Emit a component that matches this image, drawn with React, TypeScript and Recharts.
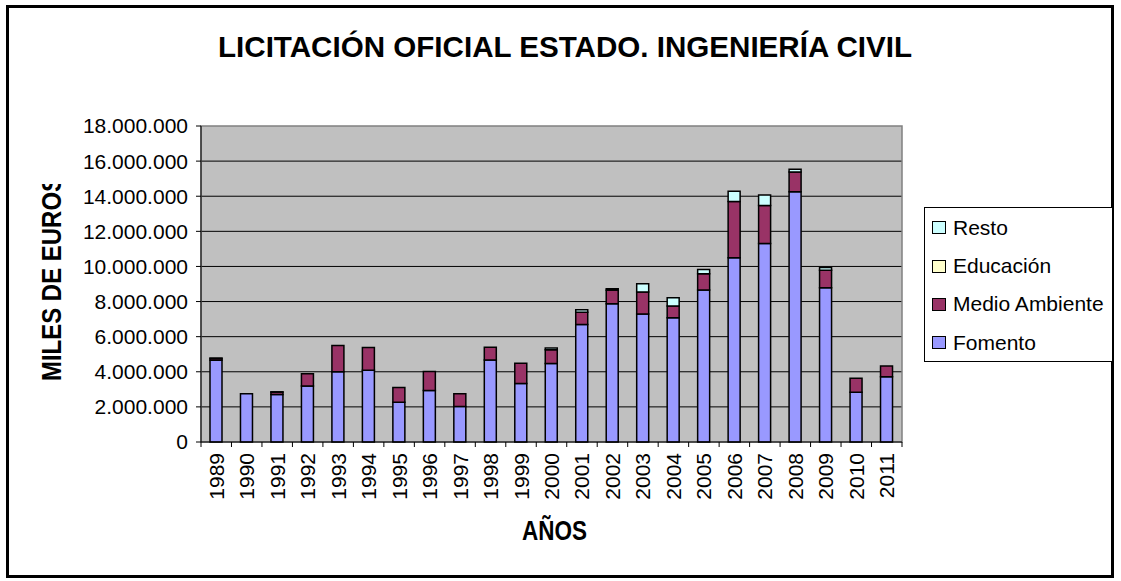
import React from 'react';
import { BarChart, Bar, XAxis, YAxis, CartesianGrid, Legend, ReferenceArea } from 'recharts';

// Licitación oficial del Estado, ingeniería civil (miles de euros)
const years = ['1989', '1990', '1991', '1992', '1993', '1994', '1995', '1996', '1997', '1998', '1999', '2000',
  '2001', '2002', '2003', '2004', '2005', '2006', '2007', '2008', '2009', '2010', '2011'];

const fomento = [4650000, 2750000, 2700000, 3190000, 4000000, 4090000, 2270000, 2940000, 2020000, 4670000, 3330000, 4470000,
  6690000, 7870000, 7290000, 7080000, 8660000, 10490000, 11310000, 14250000, 8790000, 2830000, 3720000];
const medioAmbiente = [100000, 0, 140000, 700000, 1500000, 1300000, 830000, 1080000, 730000, 730000, 1150000, 780000,
  700000, 780000, 1260000, 670000, 920000, 3210000, 2160000, 1130000, 1000000, 800000, 610000];
const educacion = [0, 0, 0, 0, 0, 0, 0, 0, 0, 0, 0, 0, 0, 0, 0, 0, 0, 0, 0, 0, 0, 0, 0];
const resto = [30000, 0, 20000, 0, 0, 0, 0, 0, 0, 0, 0, 100000,
  150000, 80000, 470000, 470000, 240000, 590000, 600000, 150000, 150000, 0, 0];

const yTicks = [0, 2000000, 4000000, 6000000, 8000000, 10000000, 12000000, 14000000, 16000000, 18000000];
const gridValues = [2000000, 4000000, 6000000, 8000000, 10000000, 12000000, 14000000, 16000000];

const seriesNames = ['Fomento', 'Medio Ambiente', 'Educación', 'Resto'];
const seriesColors = ['#9999FF', '#993366', '#FFFFCC', '#CCFFFF'];

const data = years.map((year, i) => ({
  year,
  Fomento: fomento[i],
  'Medio Ambiente': medioAmbiente[i],
  'Educación': educacion[i],
  Resto: resto[i],
}));

const FONT = '"Liberation Sans", Arial, sans-serif';
const W = 1121;
const H = 581;
const PLOT_LEFT = 201;
const PLOT_RIGHT = 902;
const BAND = (PLOT_RIGHT - PLOT_LEFT) / years.length;

const fmt = (n: number) => String(n).replace(/\B(?=(\d{3})+(?!\d))/g, '.');

function YearTick(props: any) {
  const { x, y, payload, index } = props;
  const ty = y + 11;
  return (
    <g>
      <line x1={x - BAND / 2} x2={x - BAND / 2} y1={y} y2={y + 5} stroke="#000" />
      {index === years.length - 1 && (
        <line x1={x + BAND / 2} x2={x + BAND / 2} y1={y} y2={y + 5} stroke="#000" />
      )}
      <text x={x} y={ty} transform={`rotate(-90 ${x} ${ty})`} textAnchor="end" dominantBaseline="central"
        fontSize={21} fontFamily={FONT} fill="#000">
        {payload.value}
      </text>
    </g>
  );
}

function LegendBox() {
  // Excel lists the stack top-down
  const order = [3, 2, 1, 0];
  const centers = [19.7, 58, 96, 134.7];
  return (
    <div style={{ position: 'relative', width: 189, height: 155, border: '1px solid #000', boxSizing: 'border-box', background: '#fff', fontFamily: FONT }}>
      {order.map((s, i) => (
        <div key={seriesNames[s]} style={{ position: 'absolute', left: 7, top: centers[i] - 13, height: 26, display: 'flex', alignItems: 'center' }}>
          <span style={{ display: 'inline-block', width: 14, height: 13, background: seriesColors[s], border: '1px solid #000', boxSizing: 'border-box', marginRight: 7 }} />
          <span style={{ fontSize: 21, color: '#000', lineHeight: '26px', whiteSpace: 'nowrap' }}>{seriesNames[s]}</span>
        </div>
      ))}
    </div>
  );
}

export default function App() {
  return (
    <div style={{ position: 'absolute', left: 0, top: 0, width: W, height: H, background: '#fff' }}>
      <div style={{ position: 'absolute', left: 6, top: 5, width: 1108, height: 573, border: '3px solid #000', boxSizing: 'border-box' }} />
      <div style={{ position: 'absolute', left: 0, top: 0 }}>
        <BarChart width={W} height={H} data={data} barSize={12}
          margin={{ top: 126, right: W - PLOT_RIGHT, bottom: 0, left: 0 }}>
          <CartesianGrid vertical={false} horizontalValues={gridValues} stroke="#000" fill="#C0C0C0" fillOpacity={1} />
          <ReferenceArea y1={0} y2={18000000} fill="none" stroke="#808080" strokeWidth={1.5} />
          <XAxis dataKey="year" interval={0} height={H - 442} tickSize={0} tickMargin={0}
            axisLine={{ stroke: '#000' }} tickLine={false} tick={<YearTick />} />
          <YAxis width={PLOT_LEFT} domain={[0, 18000000]} ticks={yTicks} tickFormatter={fmt}
            tickSize={5} tickMargin={8} axisLine={{ stroke: '#000' }} tickLine={{ stroke: '#000' }}
            tick={{ fontSize: 21, fontFamily: FONT, fill: '#000' }} />
          <Legend layout="vertical" align="center" verticalAlign="middle" content={<LegendBox />}
            wrapperStyle={{ position: 'absolute', left: 924, top: 207, width: 189, height: 155 }} />
          {seriesNames.map((name, i) => (
            <Bar key={name} dataKey={name} stackId="a" fill={seriesColors[i]} stroke="#000" strokeWidth={1.5}
              isAnimationActive={false} />
          ))}
        </BarChart>
      </div>
      <svg width={W} height={H} style={{ position: 'absolute', left: 0, top: 0, pointerEvents: 'none' }}>
        <defs>
          <clipPath id="ylabClip">
            <rect x={25} y={184} width={60} height={220} />
          </clipPath>
        </defs>
        <text x={565} y={57} textAnchor="middle" fontSize={30} fontWeight="bold" fontFamily={FONT}
          textLength={694} lengthAdjust="spacingAndGlyphs" fill="#000">
          LICITACIÓN OFICIAL ESTADO. INGENIERÍA CIVIL
        </text>
        <text x={554.5} y={540} textAnchor="middle" fontSize={28} fontWeight="bold" fontFamily={FONT}
          textLength={65} lengthAdjust="spacingAndGlyphs" fill="#000">
          AÑOS
        </text>
        <g clipPath="url(#ylabClip)">
          <text transform="rotate(-90)" x={-381} y={61} fontSize={28} fontWeight="bold" fontFamily={FONT}
            textLength={205} lengthAdjust="spacingAndGlyphs" fill="#000">
            MILES DE EUROS
          </text>
        </g>
      </svg>
    </div>
  );
}
